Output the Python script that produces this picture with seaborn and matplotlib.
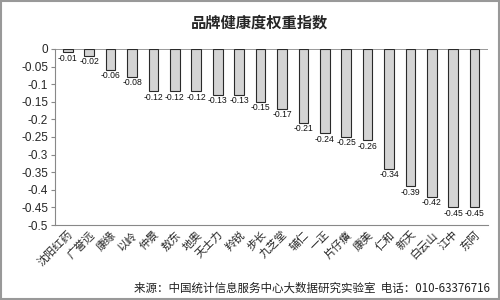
import matplotlib
matplotlib.use("Agg")
import matplotlib.pyplot as plt
import seaborn as sns
import pandas as pd
from matplotlib.patches import Rectangle

brands = ["沈阳红药", "广誉远", "康缘", "以岭", "仲景", "敖东", "地奥", "天士力", "羚锐", "步长",
          "九芝堂", "辅仁", "一正", "片仔癀", "康美", "仁和", "新天", "白云山", "江中", "东阿"]
values = [-0.01, -0.02, -0.06, -0.08, -0.12, -0.12, -0.12, -0.13, -0.13, -0.15,
          -0.17, -0.21, -0.24, -0.25, -0.26, -0.34, -0.39, -0.42, -0.45, -0.45]
yticks = [0, -0.05, -0.1, -0.15, -0.2, -0.25, -0.3, -0.35, -0.4, -0.45, -0.5]
title = "品牌健康度权重指数"
source = "来源：中国统计信息服务中心大数据研究实验室  电话：010-63376716"

sns.set_style("white")
plt.rcParams['font.family'] = ['Noto Sans CJK SC', 'DejaVu Sans']

df = pd.DataFrame({"brand": brands, "value": values})

fig = plt.figure(figsize=(5, 3), dpi=100)
ax = fig.add_axes([0.11, 0.25, 0.865, 0.587])
sns.barplot(data=df, x="brand", y="value", color="#d4d4d4", edgecolor="#2a2a2a",
            linewidth=0.8, width=0.45, ax=ax, saturation=1)

ax.set_ylim(-0.5, 0)
ax.set_xlim(-0.6, len(brands) - 0.4)
ax.set_yticks(yticks)
ax.set_yticklabels([("%g" % t) for t in yticks], fontsize=8.5,
                   fontfamily=['Liberation Sans', 'DejaVu Sans'])
ax.axhline(0, color="#888888", lw=1.2, zorder=0)
ax.set_xlabel("")
ax.set_ylabel("")
ax.tick_params(axis='x', length=0, pad=3)
ax.tick_params(axis='y', length=3, color="#888888", left=True, pad=2)
for lab in ax.get_xticklabels():
    lab.set_rotation(45)
    lab.set_ha('right')
    lab.set_rotation_mode('anchor')
    lab.set_fontsize(8)
for s in ["top", "right"]:
    ax.spines[s].set_visible(False)
ax.spines["left"].set_color("#888888")
ax.spines["bottom"].set_color("#888888")

for c in ax.containers:
    ax.bar_label(c, labels=["%g" % v for v in values], padding=1, fontsize=6.2,
                 fontfamily=['Liberation Sans Narrow', 'Liberation Sans', 'DejaVu Sans'],
                 color="#111111")

fig.text(0.52, 0.925, title, ha="center", va="center", fontsize=11, fontweight="bold")
fig.text(0.98, 0.04, source, ha="right", va="center", fontsize=8.3, color="#222222")
fig.patches.append(Rectangle((0.002, 0.003), 0.996, 0.994, transform=fig.transFigure,
                             fill=False, edgecolor="#999999", lw=1.5))
fig.savefig("out.png", dpi=100)
